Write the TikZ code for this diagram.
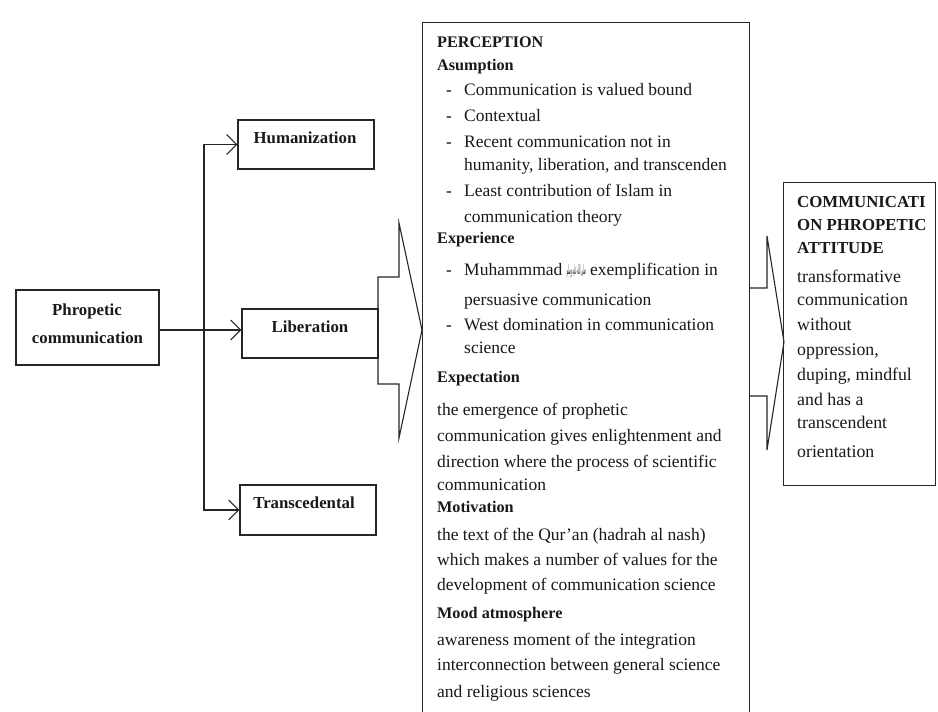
\documentclass[tikz,border=0pt]{standalone}
\usepackage{fontspec}
\usepackage{graphicx}
\setmainfont{Liberation Serif}
\newfontfamily\arabicfont[Script=Arabic]{DejaVu Sans}
\TeXXeTstate=1
\usetikzlibrary{arrows.meta}
\tikzset{
  box/.style={draw=black!85, line width=1.1pt, inner sep=0pt},
  conn/.style={draw=black!85, line width=1.1pt, -{Straight Barb[length=10pt,width=20pt,line width=1.1pt]}},
  blk/.style={draw=black!85, line width=1.1pt, line join=miter},
  txt/.style={anchor=base west, inner sep=0pt, font=\fontsize{17.5}{19}\selectfont, text=black!90},
  hd/.style={anchor=base west, inner sep=0pt, font=\fontsize{16.2}{18}\selectfont\bfseries, text=black!90},
  ctr/.style={anchor=base, inner sep=0pt, font=\fontsize{16.8}{18}\selectfont\bfseries, text=black!90},
  dsh/.style={anchor=base west, inner sep=0pt, font=\fontsize{17}{18}\selectfont},
  rtx/.style={txt, font=\fontsize{17.8}{19}\selectfont},
  rhd/.style={hd, font=\fontsize{16.8}{18}\selectfont\bfseries}
}
\begin{document}
\begin{tikzpicture}[x=1pt,y=-1pt]
\useasboundingbox (0,0) rectangle (938,712);
\fill[white] (0,0) rectangle (938,712);

% left block arrow (behind the Liberation box)
\draw[blk] (378,277) -- (399,277) -- (399,223) -- (422,330) -- (399,438) -- (399,384) -- (378,384) -- cycle;

% left boxes
\node[box, fill=white, minimum width=143pt, minimum height=75pt] (phr) at (87.5,327.5) {};
\node[box, fill=white, minimum width=136pt, minimum height=49pt] (hum) at (306,144.5) {};
\node[box, fill=white, minimum width=136pt, minimum height=49pt] (lib) at (310,333.5) {};
\node[box, fill=white, minimum width=136pt, minimum height=50pt] (tra) at (308,510) {};

\node[ctr] (phrt1) at (87,315) {Phropetic};
\node[ctr] (phrt2) at (87.5,343) {communication};
\node[ctr] (humt) at (305,143) {Humanization};
\node[ctr] (libt) at (310,332) {Liberation};
\node[ctr] (trat) at (304,508) {Transcedental};

% connectors
\coordinate (j) at (204,330);
\draw[line width=1.1pt, draw=black!85] (phr.east |- j) -- (j);
\draw[conn] (j) -- (lib.west |- j);
\draw[conn] (j) |- (hum.west);
\draw[conn] (j) |- (tra.west);

% big perception box
\node[box, minimum width=327pt, minimum height=700pt, anchor=north west] (per) at (422,22) {};

% right block arrow
\draw[blk] (749,288) -- (767,288) -- (767,236) -- (784,342) -- (767,450) -- (767,396) -- (749,396);

% right box
\node[box, minimum width=152pt, minimum height=303pt, anchor=north west] (att) at (783,182) {};

% perception text
\node[hd] (p1) at (437,47) {PERCEPTION};
\node[hd] (p2) at (437,70) {Asumption};
\node[dsh] (d1) at (446,95) {-};
\node[txt] (p3) at (464,95) {Communication is valued bound};
\node[dsh] (d2) at (446,121) {-};
\node[txt] (p4) at (464,121) {Contextual};
\node[dsh] (d3) at (446,147) {-};
\node[txt] (p5) at (464,147) {Recent communication not in};
\node[txt] (p6) at (464,170) {humanity, liberation, and transcenden};
\node[dsh] (d4) at (446,196) {-};
\node[txt] (p7) at (464,196) {Least contribution of Islam in};
\node[txt] (p8) at (464,222) {communication theory};
\node[hd] (p9) at (437,243) {Experience};
\node[dsh] (d5) at (446,275) {-};
\node[txt] (p10) at (464,275) {Muhammmad \raisebox{1pt}{\resizebox{19pt}{10pt}{\arabicfont\beginR صلى الله عليه وسلم\endR}} exemplification in};
\node[txt] (p11) at (464,305) {persuasive communication};
\node[dsh] (d6) at (446,330) {-};
\node[txt] (p12) at (464,330) {West domination in communication};
\node[txt] (p13) at (464,353) {science};
\node[hd] (p14) at (437,382) {Expectation};
\node[txt] (p15) at (437,415) {the emergence of prophetic};
\node[txt] (p16) at (437,441) {communication gives enlightenment and};
\node[txt] (p17) at (437,467) {direction where the process of scientific};
\node[txt] (p18) at (437,490) {communication};
\node[hd] (p19) at (437,512) {Motivation};
\node[txt] (p20) at (437,540) {the text of the Qur'an (hadrah al nash)};
\node[txt] (p21) at (437,565) {which makes a number of values for the};
\node[txt] (p22) at (437,590) {development of communication science};
\node[hd] (p23) at (437,618) {Mood atmosphere};
\node[txt] (p24) at (437,645) {awareness moment of the integration};
\node[txt] (p25) at (437,670) {interconnection between general science};
\node[txt] (p26) at (437,697) {and religious sciences};

% attitude text
\node[rhd] (a1) at (797,207) {COMMUNICATI};
\node[rhd] (a2) at (797,230) {ON PHROPETIC};
\node[rhd] (a3) at (797,253) {ATTITUDE};
\node[rtx] (a4) at (797,282) {transformative};
\node[rtx] (a5) at (797,305) {communication};
\node[rtx] (a6) at (797,330) {without};
\node[rtx] (a7) at (797,355) {oppression,};
\node[rtx] (a8) at (797,380) {duping, mindful};
\node[rtx] (a9) at (797,405) {and has a};
\node[rtx] (a10) at (797,428) {transcendent};
\node[rtx] (a11) at (797,457) {orientation};
\end{tikzpicture}
\end{document}
